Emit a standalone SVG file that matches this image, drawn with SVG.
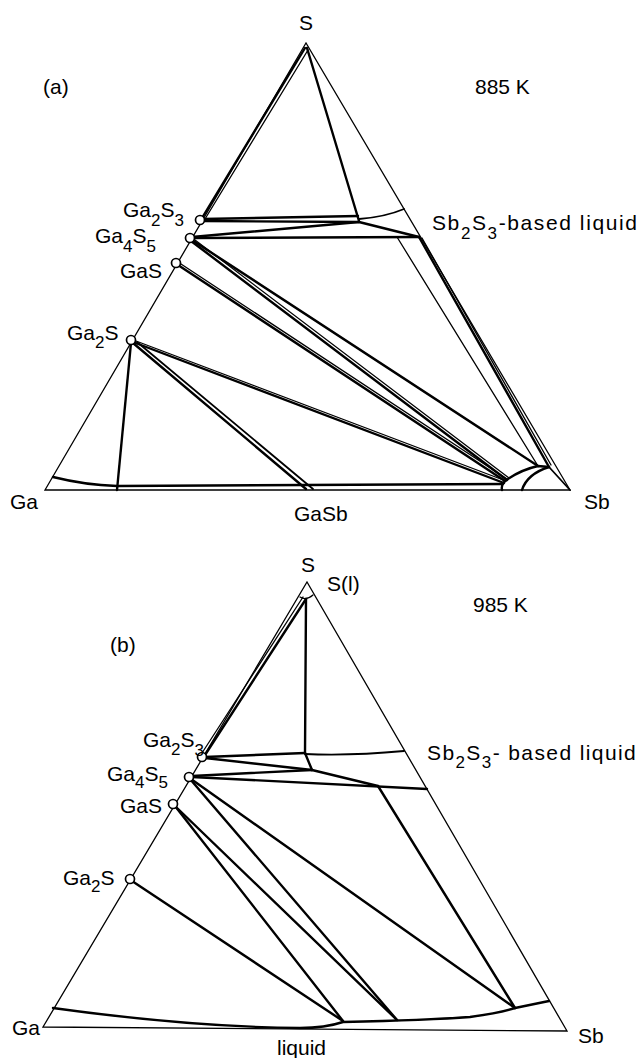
<svg xmlns="http://www.w3.org/2000/svg" width="643" height="1058" viewBox="0 0 643 1058">
<style>
text{font-family:"Liberation Sans",Arial,sans-serif;font-size:21px;fill:#000}
.sub{font-size:17px}
.edge{fill:none;stroke:#000;stroke-width:1.3;stroke-linejoin:miter}
.tie{fill:none;stroke:#000;stroke-width:2.4;stroke-linecap:round;stroke-linejoin:round}
.thin{fill:none;stroke:#000;stroke-width:1.3;stroke-linecap:round}
.mid{fill:none;stroke:#000;stroke-width:1.8;stroke-linecap:round}
.pt{fill:#fff;stroke:#000;stroke-width:1.7}
</style>
<rect width="643" height="1058" fill="#fff"/>

<!-- ===== Panel (a) ===== -->
<g id="a-frame">
<path class="edge" d="M45,490 L306,43 L570,490 Z"/>
<text x="43" y="94" font-size="20">(a)</text>
<text x="475" y="94">885 K</text>
<text x="432" y="230" letter-spacing="1.6">Sb<tspan class="sub" dy="9">2</tspan><tspan dy="-9">S</tspan><tspan class="sub" dy="9">3</tspan><tspan dy="-9">-based  liquid</tspan></text>
</g>
<g id="a-connectors">
<path class="tie" d="M305,48 L202,218"/>
<path class="thin" d="M308,50 L205,219"/>
<path class="tie" d="M307,48 L359,221"/>
<path class="tie" d="M203,219 L358,216"/>
<path class="tie" d="M203,221 L359,222"/>
<path class="mid" d="M359,219 Q385,217 404,209"/>
<path class="tie" d="M192,237 L359,222"/>
<path class="tie" d="M359,222 L419,237"/>
<path class="tie" d="M192,238 L419,237"/>
<path class="thin" d="M397,237 L538,466"/>
<path class="tie" d="M419,237 L549,467"/>
<path class="thin" d="M422,238 L551,465"/>
<path class="tie" d="M192,240 L538,466"/>
<path class="tie" d="M191,241 L507,480"/>
<path class="thin" d="M195,240 L509,478"/>
<path class="tie" d="M178,265 L505,481"/>
<path class="thin" d="M181,264 L507,479"/>
<path class="tie" d="M133,342 L504,483"/>
<path class="thin" d="M136,341 L506,481"/>
<path class="tie" d="M131,343 L117,490"/>
<path class="tie" d="M133,343 L306,489"/>
<path class="mid" d="M137,342 L313,489"/>
<path class="tie" d="M53,477 Q85,485 117,486 L503,484"/>
<path class="tie" d="M505,481 Q520,470 538,466 L549,467"/>
<path class="mid" d="M549,467 L570,490"/>
<path class="tie" d="M505,481 Q501,485 502,490"/>
<path class="tie" d="M549,467 Q527,474 522,490"/>
</g>
<g id="a-S"><text x="306" y="30" text-anchor="middle">S</text></g>
<g id="a-Ga"><text x="10" y="509">Ga</text></g>
<g id="a-Sb"><text x="584" y="509">Sb</text></g>
<g id="a-GaSb"><text x="294" y="521">GaSb</text></g>
<g id="a-Ga2S3"><circle class="pt" cx="200" cy="220" r="4.5"/><text x="123" y="217">Ga<tspan class="sub" dy="9">2</tspan><tspan dy="-9">S</tspan><tspan class="sub" dy="9">3</tspan></text></g>
<g id="a-Ga4S5"><circle class="pt" cx="190" cy="238" r="4.5"/><text x="95" y="243">Ga<tspan class="sub" dy="9">4</tspan><tspan dy="-9">S</tspan><tspan class="sub" dy="9">5</tspan></text></g>
<g id="a-GaS"><circle class="pt" cx="176" cy="263" r="4.5"/><text x="120" y="278">GaS</text></g>
<g id="a-Ga2S"><circle class="pt" cx="131" cy="340" r="4.5"/><text x="67" y="340">Ga<tspan class="sub" dy="8">2</tspan><tspan dy="-8">S</tspan></text></g>

<!-- ===== Panel (b) ===== -->
<g id="b-frame">
<path class="edge" d="M43,1027 L307,582 L567,1031 Z"/>
<text x="110" y="652" font-size="20">(b)</text>
<text x="473" y="612">985 K</text>
<text x="427" y="760" letter-spacing="1.4">Sb<tspan class="sub" dy="8">2</tspan><tspan dy="-8">S</tspan><tspan class="sub" dy="8">3</tspan><tspan dy="-8">- based  liquid</tspan></text>
<text x="277" y="1055">liquid</text>
</g>
<g id="b-connectors">
<path class="thin" d="M300,597 Q306,601 313,595"/>
<path class="tie" d="M306,599 L205,755"/>
<path class="thin" d="M303,597 L202,753"/>
<path class="tie" d="M306,599 L305,753"/>
<path class="mid" d="M305,754 Q350,756 404,751"/>
<path class="tie" d="M205,757 L305,753"/>
<path class="tie" d="M305,753 L312,770"/>
<path class="tie" d="M205,758 L312,770"/>
<path class="tie" d="M192,776 L312,770"/>
<path class="tie" d="M312,770 L378,786"/>
<path class="tie" d="M192,777 L427,789"/>
<path class="tie" d="M378,786 L515,1008"/>
<path class="tie" d="M191,779 L515,1008"/>
<path class="tie" d="M190,779 L397,1020"/>
<path class="tie" d="M175,806 L397,1020"/>
<path class="tie" d="M175,806 L343,1021"/>
<path class="tie" d="M132,881 L343,1021"/>
<path class="tie" d="M53,1008 Q190,1027 300,1028 Q325,1028 343,1022 Q430,1020 470,1017 Q500,1013 515,1008 L549,1001"/>
</g>
<g id="b-S"><text x="308" y="572" text-anchor="middle">S</text><text x="327" y="591">S(l)</text></g>
<g id="b-Ga"><text x="12" y="1035">Ga</text></g>
<g id="b-Sb"><text x="578" y="1043">Sb</text></g>
<g id="b-Ga2S3"><circle class="pt" cx="202" cy="757" r="4.5"/><text x="143" y="747">Ga<tspan class="sub" dy="8">2</tspan><tspan dy="-8">S</tspan><tspan class="sub" dy="9">3</tspan></text></g>
<g id="b-Ga4S5"><circle class="pt" cx="189" cy="777" r="4.5"/><text x="107" y="781">Ga<tspan class="sub" dy="7">4</tspan><tspan dy="-7">S</tspan><tspan class="sub" dy="7">5</tspan></text></g>
<g id="b-GaS"><circle class="pt" cx="173" cy="804" r="4.5"/><text x="120" y="813">GaS</text></g>
<g id="b-Ga2S"><circle class="pt" cx="130" cy="879" r="4.5"/><text x="63" y="885">Ga<tspan class="sub" dy="7">2</tspan><tspan dy="-7">S</tspan></text></g>
</svg>
